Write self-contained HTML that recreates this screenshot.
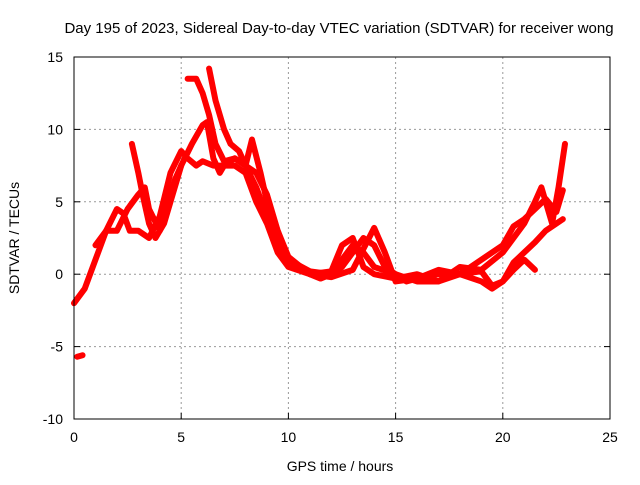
<!DOCTYPE html>
<html><head><meta charset="utf-8"><style>
body{margin:0;background:#fff;width:640px;height:480px;overflow:hidden}
svg{font-family:"Liberation Sans",sans-serif;font-size:14px}
</style></head><body>
<svg width="640" height="480">
<text x="339" y="33" text-anchor="middle" style="font-size:15px">Day 195 of 2023, Sidereal Day-to-day VTEC variation (SDTVAR) for receiver wong</text>
<g id="grid"></g>
<g id="series"></g>
<rect x="74" y="57" width="536" height="362" fill="none" stroke="#000" stroke-width="1"/>
<g id="ticks"></g>
<text x="340" y="471" text-anchor="middle">GPS time / hours</text>
<text transform="translate(19,238) rotate(-90)" text-anchor="middle">SDTVAR / TECUs</text>
</svg>
<script>
const xTicks=[0,5,10,15,20,25];
const yTicks=[-10,-5,0,5,10,15];
const seriesA=[[0,-2],[0.5,-1],[1,1],[1.5,3],[2,4.5],[2.3,4.2],[2.6,3],[3,3],[3.5,2.5],[4,4],[4.5,7],[5,8.5],[5.3,8],[5.7,7.5],[6,7.8],[6.5,7.5],[7,7.5],[7.5,8],[8,7.5],[8.5,6],[9,4],[9.5,2],[10,1],[11,0.2],[12,0],[12.5,0.5],[13,1.5],[13.5,2.5],[14,2],[14.5,0.5],[15,0],[15.5,-0.5],[16,-0.3],[17,0],[18,0],[18.5,0.5],[19,1],[20,2],[20.5,3.3],[21,3.8],[21.5,4.5],[22,5.2],[22.5,4.3],[22.8,5.8]];
const seriesB=[[2.7,9],[3,7],[3.2,5.5],[3.5,3.5],[3.8,2.5],[4.2,3.5],[4.5,5],[5,7.5],[5.5,9],[6,10.3],[6.2,10.5],[6.5,8],[6.8,7],[7,7.5],[7.5,7.5],[8,7],[8.5,5],[9,3.5],[9.5,1.5],[10,0.5],[11,0],[11.5,-0.3],[12,0],[12.5,1],[13,2],[13.5,1.5],[14,0.5],[15,0],[16,-0.5],[17,-0.5],[18,0],[19,0.2],[19.5,-0.8],[20,-0.5],[20.5,0.3],[21,1],[21.5,0.3]];
const seriesC=[[1,2],[1.5,3],[2,3],[2.5,4.5],[3,5.5],[3.3,6],[3.5,4.5],[4,3],[4.3,4.5],[4.7,6.5],[5,7.5]];
const seriesF=[[5.3,13.5],[5.7,13.5],[6,12.5],[6.3,11],[6.6,9],[7,7.8],[7.5,8],[8,7.5],[8.3,9.3],[8.7,7],[9,5],[9.5,3],[10,1],[11,0],[12,-0.2],[13,0.3],[14,3.2],[14.5,1.5],[15,-0.5],[16,-0.3],[17,0.3],[18,0],[19,-0.5],[19.5,-1],[20,-0.5],[20.5,0.8],[21,1.5],[21.5,2.2],[22,3],[22.5,3.5],[22.8,3.8]];
const seriesD=[[6.3,14.2],[6.6,12],[7,10],[7.3,9],[7.7,8.5],[8,7.5],[8.5,7],[9,5.5],[9.5,3],[10,1.2],[11,0],[12,0.2],[12.5,2],[13,2.5],[13.5,0.5],[14,0],[15,-0.3],[16,0],[17,-0.5],[18,0.5],[19,0.3],[20,1.5],[21,3.5],[21.5,5],[21.8,6],[22,5],[22.3,3.5],[22.6,6],[22.9,9]];
const seriesE=[[0.15,-5.7],[0.4,-5.6]];
const X0=74,X1=610,Y0=419,Y1=57;
const sx=v=>X0+(v-0)/25*(X1-X0);
const sy=v=>Y0-(v+10)/25*(Y0-Y1);
const NS="http://www.w3.org/2000/svg";
const grid=document.getElementById('grid'),ticks=document.getElementById('ticks'),ser=document.getElementById('series');
function mk(tag,at,parent){const e=document.createElementNS(NS,tag);for(const k in at)e.setAttribute(k,at[k]);parent.appendChild(e);return e;}
xTicks.forEach(t=>{const x=sx(t);
 if(t>0&&t<25){const g=mk('line',{x1:x,x2:x,y1:Y1,y2:Y0,stroke:'#999','stroke-dasharray':'2,3'},grid);
 
 }
 const tk=mk('line',{x1:x,x2:x,y1:Y0,y2:Y0-6,stroke:'#000'},ticks);
 
 
 const tx=mk('text',{x:x,y:442,'text-anchor':'middle'},ticks);tx.textContent=t;
 
 });
yTicks.forEach(t=>{const y=sy(t);
 if(t>-10&&t<15){const g=mk('line',{x1:X0,x2:X1,y1:y,y2:y,stroke:'#999','stroke-dasharray':'2,3'},grid);
 
 }
 const tk=mk('line',{x1:X0,x2:X0+6,y1:y,y2:y,stroke:'#000'},ticks);
 
 
 const tk2=mk('line',{x1:X1,x2:X1-6,y1:y,y2:y,stroke:'#000'},ticks);
 
 
 const tx=mk('text',{x:63,y:y+5,'text-anchor':'end'},ticks);tx.textContent=t;
 
 });
[seriesA,seriesB,seriesC,seriesF,seriesD,seriesE].forEach((s,i)=>{
 const p=mk('polyline',{points:s.map(d=>sx(d[0])+','+sy(d[1])).join(' '),fill:'none',stroke:'#ff0000','stroke-width':6,'stroke-linejoin':'round','stroke-linecap':'round'},ser);
 
 });
</script>
</body></html>
